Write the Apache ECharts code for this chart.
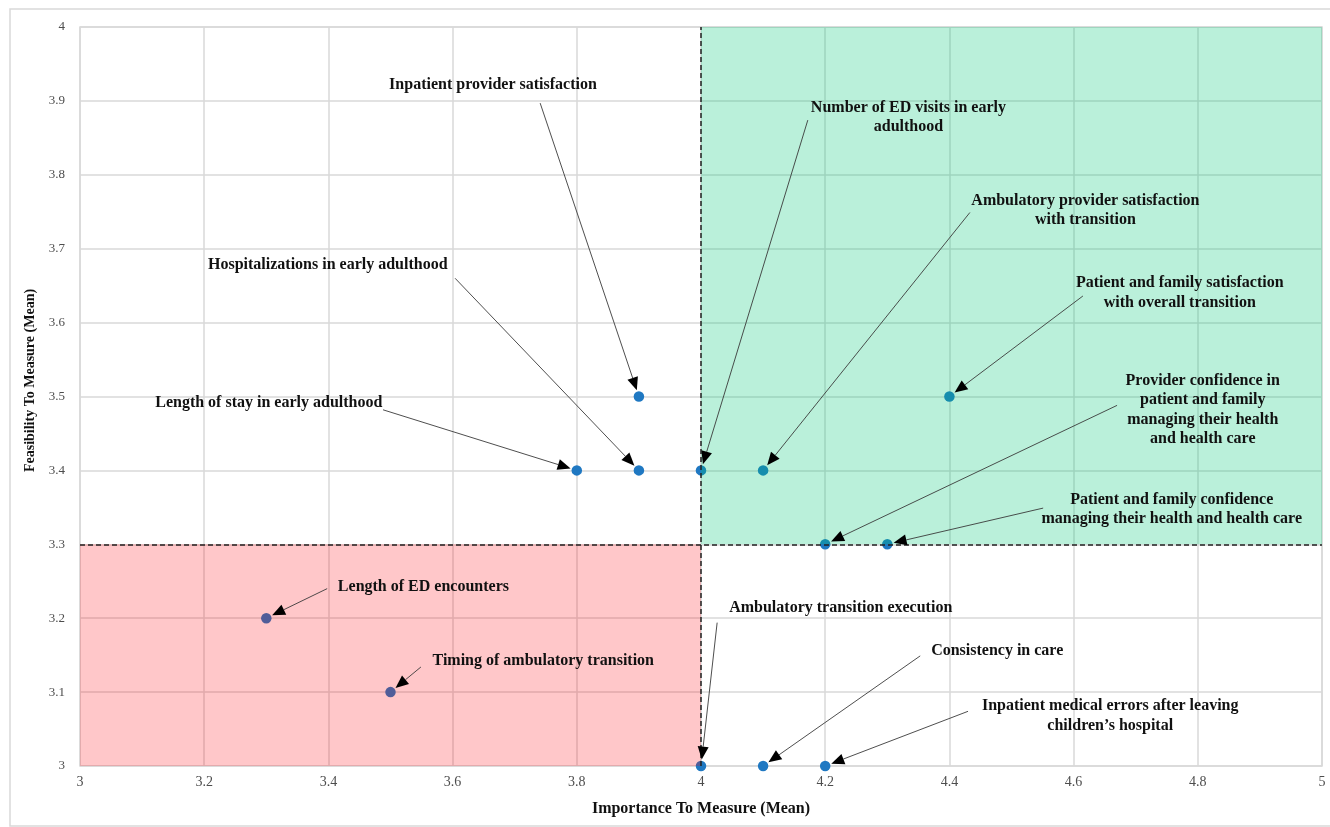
<!DOCTYPE html>
<html>
<head>
<meta charset="utf-8">
<script src="https://cdn.jsdelivr.net/npm/echarts@6/dist/echarts.min.js"></script>
<style>
html,body{margin:0;padding:0;background:#fff;}
#c{width:1330px;height:827px;}
</style>
</head>
<body>
<div id="c"></div>
<script>
// ---- data ----
const measures = [
  "Inpatient provider satisfaction",
  "Number of ED visits in early\nadulthood",
  "Ambulatory provider satisfaction\nwith transition",
  "Hospitalizations in early adulthood",
  "Patient and family satisfaction\nwith overall transition",
  "Length of stay in early adulthood",
  "Provider confidence in\npatient and family\nmanaging their health\nand health care",
  "Patient and family confidence\nmanaging their health and health care",
  "Length of ED encounters",
  "Timing of ambulatory transition",
  "Ambulatory transition execution",
  "Consistency in care",
  "Inpatient medical errors after leaving\nchildren\u2019s hospital"
];
const importance  = [3.9, 4.0, 4.1, 3.9, 4.4, 3.8, 4.2, 4.3, 3.3, 3.5, 4.0, 4.1, 4.2];
const feasibility = [3.5, 3.4, 3.4, 3.4, 3.5, 3.4, 3.3, 3.3, 3.2, 3.1, 3.0, 3.0, 3.0];
// annotation anchors (data units): label centre and arrow tail
const labelX = [3.665, 4.334, 4.619, 3.399, 4.771, 3.304, 4.808, 4.758, 3.553, 3.746, 4.225, 4.477, 4.659];
const labelY = [3.9215, 3.878, 3.752, 3.678, 3.640, 3.491, 3.482, 3.347, 3.242, 3.142, 3.214, 3.156, 3.068];
const tailX  = [3.741, 4.172, 4.433, 3.604, 4.615, 3.488, 4.670, 4.551, 3.398, 3.549, 4.026, 4.353, 4.430];
const tailY  = [3.897, 3.874, 3.749, 3.660, 3.636, 3.482, 3.488, 3.349, 3.240, 3.134, 3.194, 3.149, 3.074];
const importanceCut = 4.0;
const feasibilityCut = 3.3;

const chart = echarts.init(document.getElementById('c'), null, {renderer: 'canvas'});
const serif = '"Liberation Serif", "Times New Roman", serif';

const arrowData = measures.map((m, i) => [tailX[i], tailY[i], importance[i], feasibility[i], labelX[i], labelY[i]]);

function renderArrow(params, api) {
  const i = params.dataIndex;
  const p0 = api.coord([api.value(0), api.value(1)]);
  const p1 = api.coord([api.value(2), api.value(3)]);
  const lp = api.coord([api.value(4), api.value(5)]);
  const dx = p1[0] - p0[0], dy = p1[1] - p0[1];
  const len = Math.sqrt(dx * dx + dy * dy);
  const ux = dx / len, uy = dy / len;
  const tip = [p1[0] - ux * 6.5, p1[1] - uy * 6.5];
  const base = [tip[0] - ux * 13, tip[1] - uy * 13];
  const nx = -uy, ny = ux, hw = 5.5;
  return {
    type: 'group',
    children: [
      {type: 'line', shape: {x1: p0[0], y1: p0[1], x2: base[0], y2: base[1]},
       style: {stroke: '#3a3a3a', lineWidth: 0.9}},
      {type: 'polygon', shape: {points: [tip, [base[0] + nx * hw, base[1] + ny * hw], [base[0] - nx * hw, base[1] - ny * hw]]},
       style: {fill: '#000'}},
      {type: 'text', x: lp[0], y: lp[1],
       style: {text: measures[i], align: 'center', verticalAlign: 'middle',
               font: 'bold 16px ' + serif, lineHeight: 19.5, fill: '#111'}}
    ]
  };
}

const option = {
  animation: false,
  backgroundColor: '#fff',
  graphic: [{
    type: 'rect', shape: {x: 10, y: 9, width: 1330, height: 817},
    style: {fill: 'none', stroke: '#d9d9d9', lineWidth: 1.5}, silent: true, z: -10
  }],
  grid: {left: 80, right: 8, top: 27, bottom: 61, show: true, borderColor: '#d9d9d9', borderWidth: 1.5},
  xAxis: {
    type: 'value', min: 3, max: 5, interval: 0.2,
    name: 'Importance To Measure (Mean)', nameLocation: 'middle', nameGap: 35,
    nameTextStyle: {fontFamily: serif, fontWeight: 'bold', fontSize: 16, color: '#111'},
    axisLine: {show: false}, axisTick: {show: false},
    axisLabel: {fontFamily: serif, fontSize: 14, color: '#4d4d4d', margin: 9},
    splitLine: {show: true, lineStyle: {color: '#d9d9d9', width: 1.5}}
  },
  yAxis: {
    type: 'value', min: 3, max: 4, interval: 0.1,
    name: 'Feasibility To Measure (Mean)', nameLocation: 'middle', nameGap: 42,
    nameTextStyle: {fontFamily: serif, fontWeight: 'bold', fontSize: 14, color: '#111', padding: [0, 0, 0, 32]},
    axisLine: {show: false}, axisTick: {show: false},
    axisLabel: {fontFamily: serif, fontSize: 13, color: '#4d4d4d', margin: 15},
    splitLine: {show: true, lineStyle: {color: '#d9d9d9', width: 1.5}}
  },
  series: [
    {
      type: 'scatter', z: 2, symbolSize: 10.5,
      itemStyle: {color: '#1f78c2', opacity: 1},
      data: importance.map((x, i) => [x, feasibility[i]])
    },
    {
      type: 'line', z: 3, data: [], silent: true,
      markArea: {
        silent: true, z: 3,
        data: [
          [{coord: [importanceCut, feasibilityCut], itemStyle: {color: 'rgba(0,200,120,0.27)'}}, {coord: [5, 4]}],
          [{coord: [3, 3], itemStyle: {color: 'rgba(255,0,10,0.22)'}}, {coord: [importanceCut, feasibilityCut]}]
        ]
      }
    },
    {
      type: 'line', z: 4, data: [], silent: true,
      markLine: {
        silent: true, symbol: 'none', label: {show: false}, z: 4,
        lineStyle: {color: '#222', type: [5, 3], width: 1.5},
        data: [{xAxis: importanceCut}, {yAxis: feasibilityCut}]
      }
    },
    {
      type: 'custom', z: 5, silent: true,
      encode: {x: 0, y: 1},
      renderItem: renderArrow,
      data: arrowData
    }
  ]
};
chart.setOption(option);
</script>
</body>
</html>
